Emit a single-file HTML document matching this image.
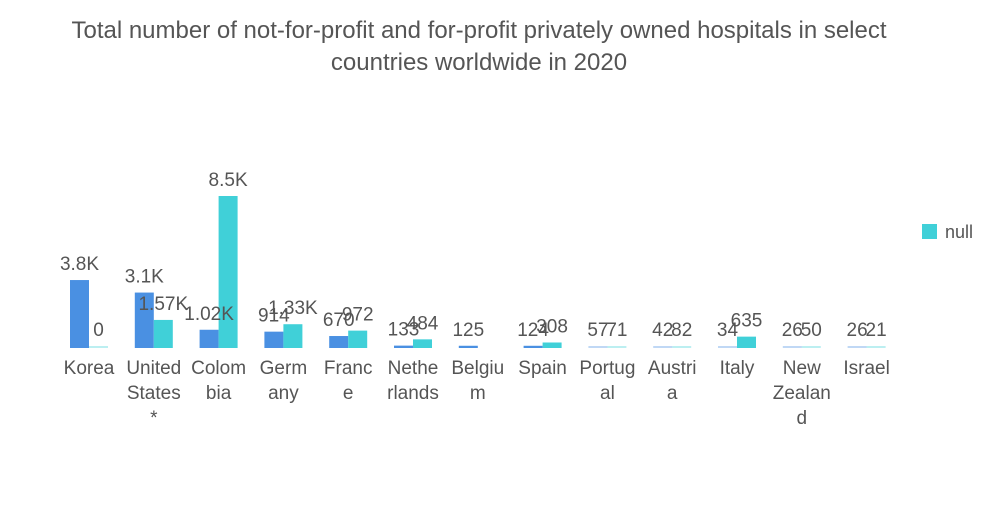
<!DOCTYPE html>
<html><head><meta charset="utf-8"><style>
body{margin:0;background:#fff;font-family:"Liberation Sans",sans-serif;}
svg text{font-family:"Liberation Sans",sans-serif;fill:#555;}
</style></head><body>
<svg width="1000" height="504">
<text x="479" y="38" text-anchor="middle" font-size="24">Total number of not-for-profit and for-profit privately owned hospitals in select</text>
<text x="479" y="70" text-anchor="middle" font-size="24">countries worldwide in 2020</text>
<g id="bars"></g>
<g id="labels"></g>
<rect x="922" y="224" width="15" height="15" fill="#40d0d8"/>
<text x="945" y="238" font-size="18">null</text>
</svg>
<script>
const categories=[["Korea"],["United","States","*"],["Colom","bia"],["Germ","any"],["Franc","e"],["Nethe","rlands"],["Belgiu","m"],["Spain"],["Portug","al"],["Austri","a"],["Italy"],["New","Zealan","d"],["Israel"]];
const seriesA=[3800,3100,1020,914,670,133,125,124,57,42,34,26,26];
const seriesB=[0,1570,8500,1330,972,484,null,308,71,82,635,50,21];
const labelsA=["3.8K","3.1K","1.02K","914","670","133","125","124","57","42","34","26","26"];
const labelsB=["0","1.57K","8.5K","1.33K","972","484","","308","71","82","635","50","21"];
const NS="http://www.w3.org/2000/svg";
const g=document.getElementById('bars');
const gl=document.getElementById('labels');
const base=348,scale=152/8500,x0=89,step=64.8,bw=19;
function xc(i){return x0+i*step;}
function mk(p,t,a){const e=document.createElementNS(NS,t);for(const k in a)e.setAttribute(k,a[k]);p.appendChild(e);return e;}
categories.forEach((c,i)=>{
  [[seriesA,labelsA,'#4a90e2',-bw],[seriesB,labelsB,'#40d0d8',0]].forEach(([s,l,col,off],j)=>{
    const v=s[i]; if(v===null)return;
    const h=Math.max(v*scale,2);
    const r=mk(g,'rect',{x:xc(i)+off,y:base-h,width:bw,height:h,fill:col,opacity:v*scale<2?0.35:1});
    
    
    const t=mk(gl,'text',{x:xc(i)+off+bw/2,y:base-h-10,'text-anchor':'middle','font-size':19});
    t.textContent=l[i];
    
    
  });
  c.forEach((line,k)=>{
    const t=mk(gl,'text',{x:xc(i),y:374+k*25,'text-anchor':'middle','font-size':19});
    t.textContent=line;
    
    
  });
});
</script>
</body></html>
